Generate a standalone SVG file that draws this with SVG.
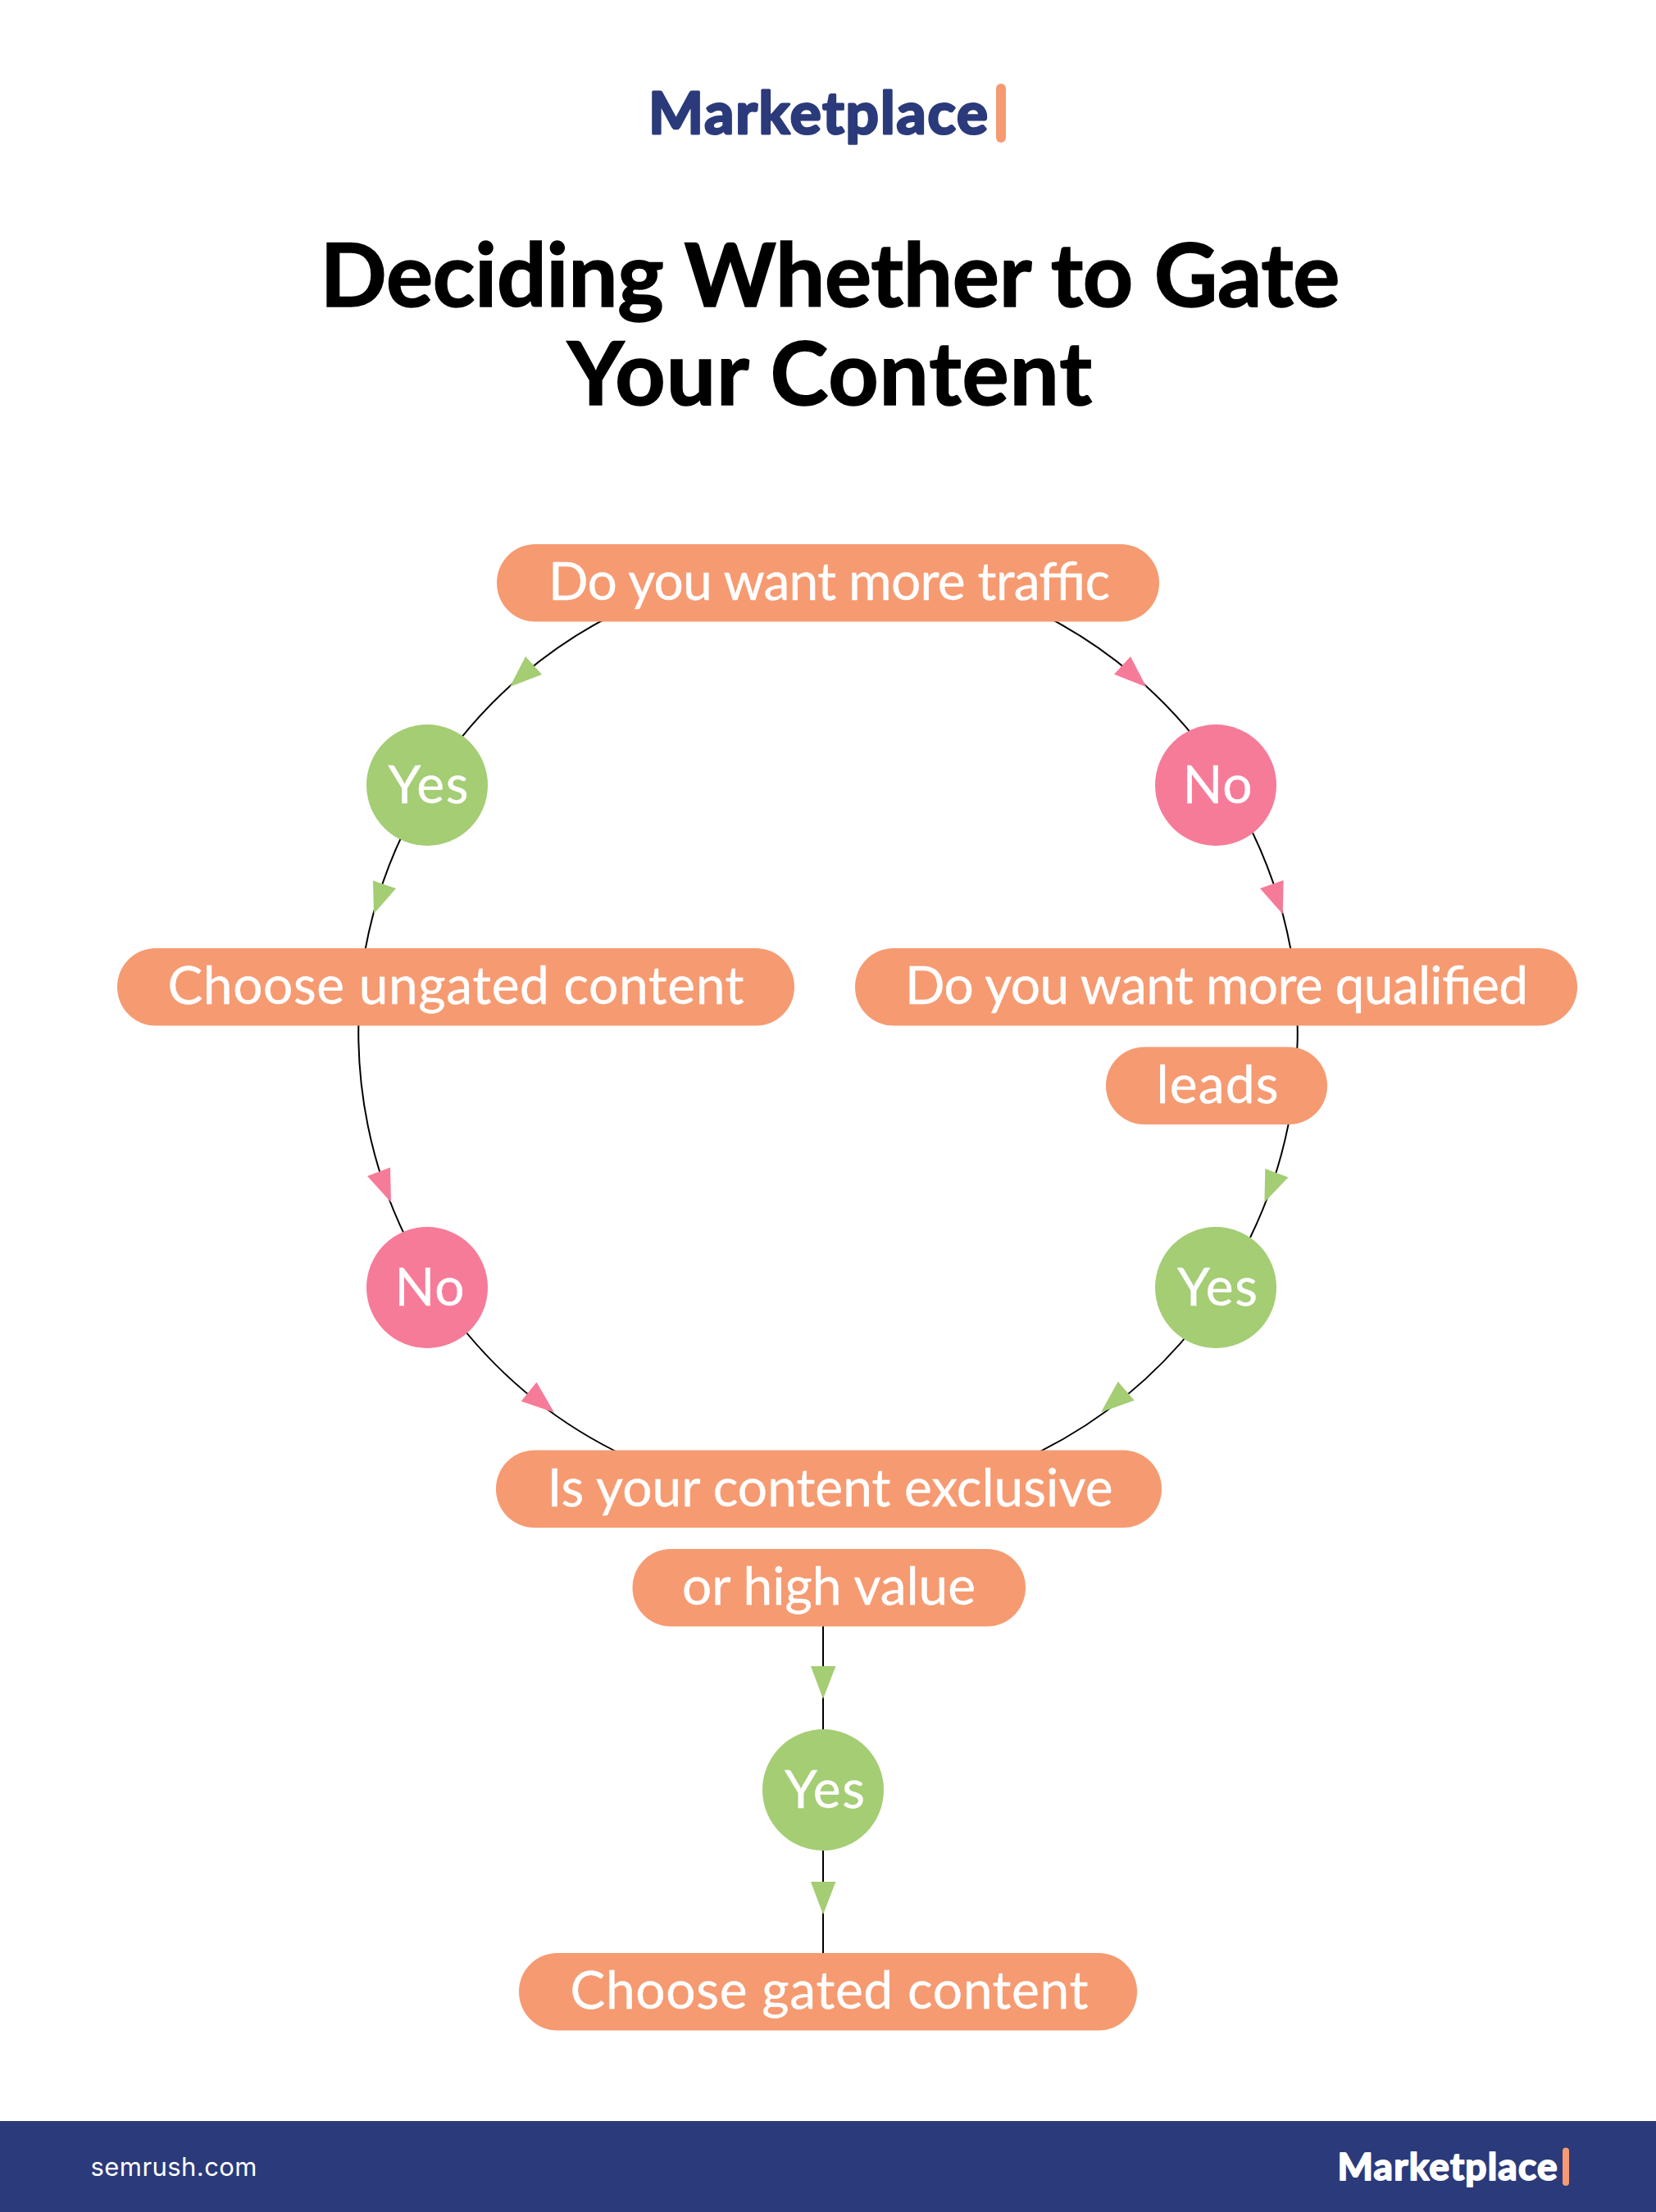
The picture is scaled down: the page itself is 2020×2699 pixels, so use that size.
<svg xmlns="http://www.w3.org/2000/svg" width="2020" height="2699" viewBox="0 0 2020 2699">
<style>
text{font-family:"Lato","Liberation Sans",sans-serif;text-anchor:middle}
.pill{fill:#F69A71}
.yes{fill:#A4CD74}
.no{fill:#F67B99}
.t{fill:#fff;font-size:64px;font-weight:400;stroke:#fff;stroke-width:.4}
.title{fill:#000;font-size:107px;font-weight:700;stroke:#000;stroke-width:1.5}
.edge{fill:none;stroke:#000;stroke-width:2}
.logo{font-weight:700;stroke-linejoin:round}
</style>
<rect width="2020" height="2699" fill="#fff"/>
<g id="header">
<text class="logo" x="998" y="163" font-size="71" fill="#2B3A7A" stroke="#2B3A7A" stroke-width="3" textLength="414">Marketplace</text>
<rect class="pill" x="1215" y="102" width="12" height="72" rx="6"/>
<text class="title" x="1012.5" y="374" textLength="1244">Deciding Whether to Gate</text>
<text class="title" x="1012" y="494" textLength="640">Your Content</text>
</g>
<g id="connectors">
<path class="edge" d="M760 744A573 573 0 0 0 540 930"/>
<path class="edge" d="M500 1000A573 573 0 0 0 442 1180"/>
<path class="edge" d="M438 1230A573 573 0 0 0 495 1510"/>
<path class="edge" d="M560 1615A573 573 0 0 0 770 1780"/>
<path class="edge" d="M1260 744A573 573 0 0 1 1480 930"/>
<path class="edge" d="M1520 1000A573 573 0 0 1 1578 1180"/>
<path class="edge" d="M1582 1230A573 573 0 0 1 1525 1510"/>
<path class="edge" d="M1460 1615A573 573 0 0 1 1250 1780"/>
<path class="edge" d="M1004 1980V2115"/>
<path class="edge" d="M1004 2255V2388"/>
<polygon class="yes" points="641,801 661,823 622,838"/>
<polygon class="yes" points="455,1074.5 483,1084 456,1115"/>
<polygon class="no" points="448,1435 476,1424.5 477,1467"/>
<polygon class="no" points="654.5,1686.6 635.7,1709.7 676,1723.4"/>
<polygon class="no" points="1379,801 1359,822.7 1398.3,838.3"/>
<polygon class="no" points="1537,1084 1565.6,1074 1564.7,1115.5"/>
<polygon class="yes" points="1543.3,1426 1571.4,1436.5 1542.4,1467"/>
<polygon class="yes" points="1363.7,1685.7 1383.7,1708.7 1343,1723.3"/>
<polygon class="yes" points="989,2033 1019.5,2033 1004,2073"/>
<polygon class="yes" points="989,2296 1019.5,2296 1004,2336"/>
</g>
<g id="n-traffic"><rect class="pill" x="606" y="664" width="808" height="94.5" rx="47"/><text class="t" x="1011.5" y="731.5" textLength="685">Do you want more traffic</text></g>
<g id="n-yes1"><circle class="yes" cx="521" cy="958" r="74"/><text class="t" x="522.5" y="979.5" textLength="98">Yes</text></g>
<g id="n-no1"><circle class="no" cx="1483" cy="958" r="74"/><text class="t" x="1485" y="979.5" textLength="85">No</text></g>
<g id="n-ungated"><rect class="pill" x="143" y="1157" width="826" height="94.5" rx="47"/><text class="t" x="556" y="1224.5" textLength="703">Choose ungated content</text></g>
<g id="n-qualified"><rect class="pill" x="1043" y="1157" width="881" height="94.5" rx="47"/><text class="t" x="1484" y="1224.5" textLength="760">Do you want more qualified</text></g>
<g id="n-leads"><rect class="pill" x="1349" y="1277.5" width="270" height="94.5" rx="47"/><text class="t" x="1485" y="1345.5" textLength="149">leads</text></g>
<g id="n-no2"><circle class="no" cx="521" cy="1571" r="74"/><text class="t" x="524" y="1592.5" textLength="85">No</text></g>
<g id="n-yes2"><circle class="yes" cx="1483" cy="1571" r="74"/><text class="t" x="1485" y="1592.5" textLength="98">Yes</text></g>
<g id="n-exclusive"><rect class="pill" x="605" y="1769.5" width="812" height="94.5" rx="47"/><text class="t" x="1012.5" y="1837.5" textLength="690">Is your content exclusive</text></g>
<g id="n-highvalue"><rect class="pill" x="771.5" y="1890" width="479.5" height="94.5" rx="47"/><text class="t" x="1011" y="1957.5" textLength="358">or high value</text></g>
<g id="n-yes3"><circle class="yes" cx="1004" cy="2184" r="74"/><text class="t" x="1006" y="2205.5" textLength="98">Yes</text></g>
<g id="n-gated"><rect class="pill" x="633" y="2383" width="754" height="94.5" rx="47"/><text class="t" x="1011.5" y="2450.5" textLength="632">Choose gated content</text></g>
<g id="footer">
<rect x="0" y="2588" width="2020" height="111" fill="#2B3A7A"/>
<text x="212" y="2655" font-size="31" fill="#fff" style="font-family:Inter,'Liberation Sans',sans-serif" textLength="203">semrush.com</text>
<text class="logo" x="1765.5" y="2660" font-size="46" fill="#fff" stroke="#fff" stroke-width="2" textLength="268">Marketplace</text>
<rect class="pill" x="1906" y="2620.5" width="8" height="46.5" rx="4"/>
</g>
</svg>
